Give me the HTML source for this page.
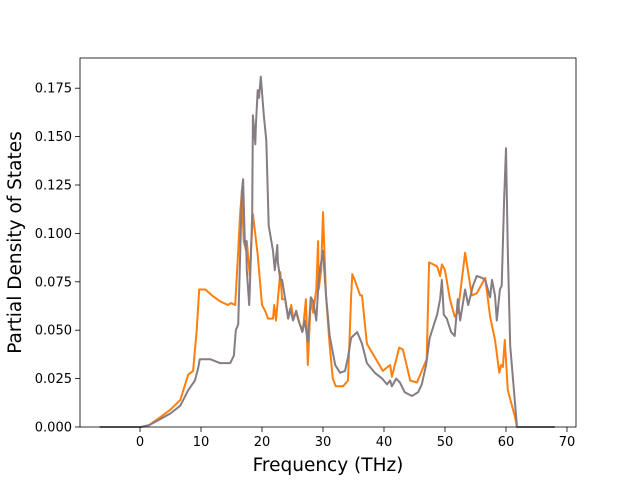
<!DOCTYPE html>
<html><head><meta charset="utf-8"><style>
body{margin:0;background:#fff}
svg{display:block;font-family:"DejaVu Sans","Liberation Sans",sans-serif}
</style></head><body>
<svg id="chart" width="640" height="480"></svg>
<script>
const xTicks=[0,10,20,30,40,50,60,70];
const yTicks=[0,0.025,0.05,0.075,0.1,0.125,0.15,0.175];
const orangeFreq=[-6.6,0.2,1.5,3.3,5.0,6.6,7.9,8.7,9.3,9.7,10.7,11.8,13.1,14.4,14.9,15.6,16.1,16.4,16.7,17.0,17.4,17.5,18.0,18.5,19.3,20.0,20.5,21.0,21.8,22.0,22.3,23.0,23.3,23.8,24.3,24.8,25.1,25.6,26.2,26.7,27.2,27.5,28.0,28.4,28.9,29.2,29.3,29.7,30.0,30.5,31.1,31.6,32.1,33.3,34.1,34.6,34.8,35.2,36.1,36.4,37.2,39.8,41.0,41.3,42.5,43.1,44.3,45.4,46.2,47.0,47.4,48.7,49.2,49.5,50.0,50.8,51.6,52.1,53.3,54.4,55.2,56.6,57.4,58.2,58.9,59.2,59.5,59.8,60.3,61.5,61.8,68.0];
const orangeVal=[0,0,.001,.005,.009,.014,.027,.029,.050,.071,.071,.068,.065,.063,.064,.063,.091,.109,.122,.096,.091,.096,.078,.110,.089,.063,.060,.056,.056,.063,.055,.080,.066,.066,.056,.063,.056,.059,.053,.050,.066,.032,.066,.059,.071,.096,.071,.081,.111,.068,.042,.025,.021,.021,.024,.067,.079,.076,.068,.068,.043,.029,.032,.026,.041,.040,.024,.023,.029,.035,.085,.083,.078,.084,.081,.066,.057,.059,.090,.068,.069,.077,.057,.045,.028,.032,.031,.045,.019,.005,0,0];
const greyFreq=[-6.6,0.2,1.5,3.3,5.0,6.6,7.9,9.0,9.5,9.8,11.5,13.1,14.8,15.4,15.7,16.1,16.4,16.7,16.9,17.2,17.4,17.5,17.9,18.0,18.4,18.5,18.9,19.0,19.3,19.5,19.8,20.3,20.7,21.1,21.8,22.1,22.5,22.6,23.0,23.3,23.8,24.3,24.6,25.1,25.6,26.1,26.6,27.0,27.5,28.0,28.4,28.9,29.2,29.5,30.0,30.5,31.1,32.0,32.8,33.6,34.1,34.6,35.6,36.4,37.2,38.5,39.7,40.5,41.0,41.3,42.0,42.6,43.4,44.6,45.6,46.2,46.9,47.5,48.7,49.2,49.5,49.8,50.3,51.0,51.6,52.1,52.5,53.3,53.8,54.6,55.2,56.1,56.6,57.4,57.7,58.2,58.5,59.0,59.3,59.7,60.0,60.3,60.7,61.8,68.0];
const greyVal=[0,0,.001,.004,.007,.011,.019,.024,.030,.035,.035,.033,.033,.037,.050,.053,.086,.122,.128,.094,.096,.081,.063,.071,.110,.161,.146,.156,.174,.170,.181,.161,.148,.104,.091,.081,.094,.085,.076,.076,.066,.056,.061,.055,.060,.054,.049,.055,.044,.067,.065,.055,.071,.081,.091,.068,.047,.032,.028,.029,.036,.046,.049,.043,.033,.028,.025,.022,.024,.021,.025,.023,.018,.016,.018,.022,.032,.046,.058,.066,.076,.058,.056,.049,.047,.066,.055,.071,.063,.073,.078,.077,.076,.067,.076,.068,.055,.071,.073,.117,.144,.091,.042,0,0];

const NS='http://www.w3.org/2000/svg';
const svg=document.getElementById('chart');
const L=80,R=576,T=58,B=427;
const xMin=-9.84,xMax=71.48,yMin=0,yMax=0.1906;
const sx=v=>L+(v-xMin)/(xMax-xMin)*(R-L);
const sy=v=>B-(v-yMin)/(yMax-yMin)*(B-T);
function mk(tag,attrs){const e=document.createElementNS(NS,tag);for(const k in attrs)e.setAttribute(k,attrs[k]);svg.appendChild(e);return e;}

function line(fs,vs,color,name){
  const d=fs.map((f,i)=>(i?'L':'M')+sx(f).toFixed(1)+','+sy(vs[i]).toFixed(1)).join('');
  const p=mk('path',{d:d,fill:'none',stroke:color,'stroke-width':2,'stroke-linejoin':'round'});
  
  
}
line(orangeFreq,orangeVal,'#ff7f0e','orange-series-line');
line(greyFreq,greyVal,'#867c84','grey-series-line');

const frame=mk('rect',{x:L,y:T,width:R-L,height:B-T,fill:'none',stroke:'#000','stroke-width':0.8});



xTicks.forEach(t=>{
  const x=sx(t);
  const tk=mk('line',{x1:x,x2:x,y1:B,y2:B+5,stroke:'#000','stroke-width':0.8});
  
  
  const tx=mk('text',{x:x,y:B+19,'text-anchor':'middle','font-size':13,fill:'#000'});
  tx.textContent=t;
  
  
});
yTicks.forEach(t=>{
  const y=sy(t);
  const tk=mk('line',{x1:L-5,x2:L,y1:y,y2:y,stroke:'#000','stroke-width':0.8});
  
  
  const tx=mk('text',{x:L-8,y:y+4.5,'text-anchor':'end','font-size':13,fill:'#000'});
  tx.textContent=t.toFixed(3);
  
  
});
const xl=mk('text',{x:(L+R)/2,y:471,'text-anchor':'middle','font-size':18.5,fill:'#000'});
xl.textContent='Frequency (THz)';


const yl=mk('text',{x:0,y:0,'text-anchor':'middle','font-size':18.5,fill:'#000',transform:'translate(21,'+((T+B)/2)+') rotate(-90)'});
yl.textContent='Partial Density of States';


</script>
</body></html>
